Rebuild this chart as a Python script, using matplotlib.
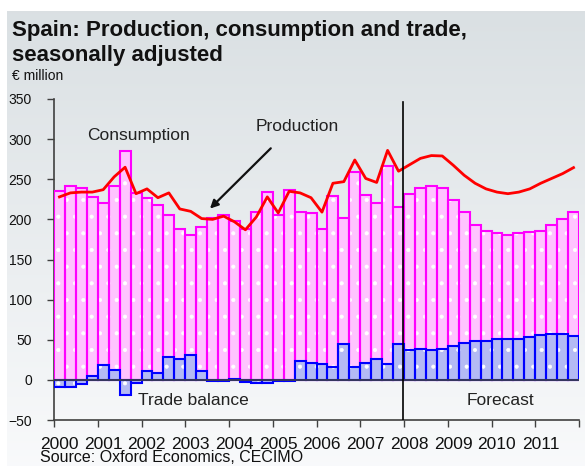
import numpy as np
import matplotlib.pyplot as plt
import matplotlib.transforms as mtransforms

plt.rcParams['font.family'] = ['Liberation Sans', 'DejaVu Sans']
plt.rcParams['hatch.color'] = 'white'
plt.rcParams['hatch.linewidth'] = 0.5

#季度数据 2000Q1-2011Q4
years = list(range(2000, 2012))
consumption = [235, 241, 239, 228, 220, 241, 285, 233, 227, 218, 205, 188,
               181, 190, 202, 205, 197.5, 188, 209, 234, 206, 236, 209.5, 207.5,
               188, 229, 202, 259, 230, 220, 266, 216,
               232, 239, 241, 239, 224.5, 209, 193, 186, 182.5, 181, 183, 184.5,
               186, 193, 200, 209]
production = [228, 233, 234, 234, 237, 253, 265, 232, 238, 227, 233, 213,
              210, 201, 200, 204, 197, 187, 203, 228, 208, 235, 233, 227,
              209, 245, 247, 274, 251, 246, 286, 260,
              268, 276, 279.5, 279, 267.5, 255, 245, 238, 234, 232, 234, 238,
              245, 251, 257, 264.5]
trade_balance = [-8.7, -8.7, -5.4, 5, 18, 12.5, -19, -4.5, 11, 9, 28, 25.5,
                 30.5, 11, -1, -1, 1.7, -2.5, -4, -4, -1, -1, 23, 21,
                 19.5, 15.5, 44.5, 15.5, 21, 26, 19.5, 44.5,
                 36.7, 38.8, 37, 38.8, 42.5, 45.8, 49, 49, 51, 51, 51, 53,
                 55.4, 56.7, 56.7, 55]

W, H = 585, 466
fig = plt.figure(figsize=(W / 100, H / 100), dpi=100)
fig.patch.set_facecolor('white')

#灰色渐变背景
bg = fig.add_axes([7 / W, 0, 1 - 7 / W, 1 - 11 / H], zorder=-10)
grad = np.linspace(0, 1, 256).reshape(-1, 1)
top = np.array([0.855, 0.878, 0.890])
bot = np.array([0.975, 0.980, 0.985])
img = top[None, None, :] * (1 - grad[:, :, None]) + bot[None, None, :] * grad[:, :, None]
bg.imshow(img, aspect='auto', extent=[0, 1, 0, 1])
bg.axis('off')

ax = fig.add_axes([54 / W, 1 - 420 / H, 525 / W, (420 - 99) / H])
ax.patch.set_alpha(0)

x = 2000 + (np.arange(len(consumption)) + 0.5) / 4
w = 0.25

#消费柱
ax.bar(x, consumption, width=w, color='#ffc4ff', edgecolor='white', linewidth=0,
       hatch='.', zorder=2)
ax.bar(x, consumption, width=w, fill=False, edgecolor='#ff00ff', linewidth=1.5, zorder=3)
#贸易差额柱
ax.bar(x, trade_balance, width=w, color='#b4baf4', edgecolor='white', linewidth=0,
       hatch='.', zorder=4)
ax.bar(x, trade_balance, width=w, fill=False, edgecolor='#0000ff', linewidth=1.5, zorder=5)
#产量线
ax.plot(x, production, color='#ff0000', linewidth=2, zorder=6)

ax.axhline(0, color='#404040', linewidth=1.2, zorder=7)
ax.plot([2007.97, 2007.97], [-50, 346], color='black', linewidth=1.2, zorder=8)

ax.set_xlim(2000, 2012)
ax.set_ylim(-50, 350)
ax.set_yticks(range(-50, 351, 50))
ax.set_xticks(range(2000, 2013))
ax.set_xticklabels([])
#年份标签
lab_tr = ax.transData + mtransforms.ScaledTranslation(0, -17 / 100, fig.dpi_scale_trans)
for yr in years:
    ax.text(yr + 0.12, -50, str(yr), transform=lab_tr, ha='center', va='top',
            fontsize=12.5, color='#111111')
for lbl in ax.get_yticklabels():
    lbl.set_fontsize(10)
ax.tick_params(axis='y', direction='out', length=5, width=1, color='#404040', pad=11,
               labelcolor='#111111')
ax.tick_params(axis='x', direction='out', length=5, width=1, color='#404040')
for s in ['top', 'right']:
    ax.spines[s].set_visible(False)
for s in ['left', 'bottom']:
    ax.spines[s].set_color('#404040')
    ax.spines[s].set_linewidth(1.2)

ax.text(2001.92, 305, 'Consumption', fontsize=12.5, ha='center', va='center', color='#222222')
ax.text(2005.55, 316, 'Production', fontsize=12.5, ha='center', va='center', color='#222222')
ax.annotate('', xy=(2003.52, 211), xytext=(2005.0, 291),
            arrowprops=dict(arrowstyle='-|>', color='#111111', lw=1.6, mutation_scale=12))
ax.text(2003.18, -26, 'Trade balance', fontsize=12.5, ha='center', va='center', color='#222222')
ax.text(2010.2, -26, 'Forecast', fontsize=12.5, ha='center', va='center', color='#222222')

fig.text(12 / W, 1 - 20 / H, 'Spain: Production, consumption and trade,\nseasonally adjusted',
         fontsize=16, fontweight='bold', ha='left', va='top', color='#111111', linespacing=1.22)
fig.text(12 / W, 1 - 76 / H, '€ million', fontsize=10, ha='left', va='center', color='#111111')
fig.text(40 / W, 1 - 465.5 / H, 'Source: Oxford Economics, CECIMO', fontsize=11.5,
         ha='left', va='bottom', color='#111111')

fig.savefig('out.png', dpi=100)
